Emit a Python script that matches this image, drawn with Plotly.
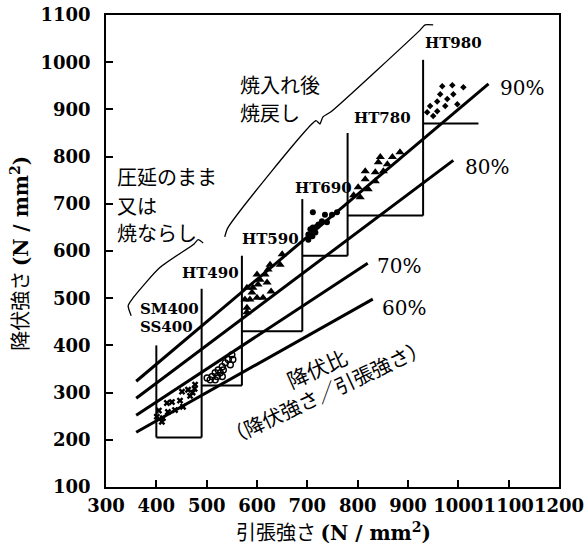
import plotly.graph_objects as go

# Yield strength vs. tensile strength of structural steels (N/mm2)

# yield-ratio reference lines
ratio_values = [0.9, 0.8, 0.7, 0.6]
ratio_labels = ["90%", "80%", "70%", "60%"]
ratio_x_start = [360, 360, 360, 360]
ratio_x_end = [1060, 990, 820, 830]
ratio_label_x = [1079, 1010, 835, 845]
ratio_label_y = [945, 778, 569, 480]

# steel grades: stepped specification brackets
grade_names = ["SM400", "HT490", "HT590", "HT690", "HT780", "HT980"]
ts_min = [400, 490, 570, 690, 780, 930]
ys_min = [205, 315, 430, 590, 675, 870]
bracket_top = [400, 520, 590, 710, 850, 1005]
last_bracket_end = 1040
grade_label_x = [364, 447, 566, 672, 789, 930]
grade_label_y = [478, 554, 626, 734, 882, 1041]
ss400_label_x = 364
ss400_label_y = 440

# measured test results per grade
sm400_x = [401, 405, 411, 413, 421, 423, 431, 437, 447, 451, 453, 463, 467, 472, 477, 476]
sm400_y = [249, 262, 238, 246, 278, 259, 280, 263, 283, 302, 270, 306, 293, 300, 317, 308]

ht490_x = [550, 543, 552, 537, 547, 531, 523, 533, 517, 527, 511, 521, 531, 501, 507, 517]
ht490_y = [380, 370, 370, 363, 359, 355, 348, 348, 342, 342, 334, 334, 334, 331, 327, 327]

ht590_x = [650, 646, 626, 622, 600, 616, 606, 620, 602, 580, 592, 628, 590, 586, 600, 612, 576, 580, 580]
ht590_y = [593, 571, 571, 561, 550, 550, 539, 533, 529, 522, 522, 514, 512, 497, 501, 501, 497, 480, 470]

ht690_x = [711, 735, 749, 759, 729, 739, 719, 711, 706, 716, 702, 710, 702, 722]
ht690_y = [682, 677, 677, 682, 663, 661, 652, 650, 646, 639, 635, 631, 624, 656]

ht780_x = [884, 869, 845, 841, 859, 815, 835, 851, 815, 835, 801, 821, 805, 792]
ht780_y = [809, 799, 799, 788, 784, 769, 767, 769, 752, 748, 735, 731, 714, 718]

ht980_x = [968, 988, 1010, 964, 990, 978, 958, 998, 944, 974, 958, 938, 950]
ht980_y = [949, 951, 947, 932, 932, 922, 917, 911, 907, 907, 896, 894, 886]

# curly braces grouping the heat-treatment classes
brace_hq_x = [536, 542, 717, 722, 725, 731, 747, 924, 934, 950]
brace_hq_y = [630, 649, 876, 872, 869, 884, 895, 1068, 1079, 1079]
brace_rolled_x = [350, 344, 354, 407, 475, 483, 493]
brace_rolled_y = [463, 484, 501, 565, 615, 624, 617]

# text blocks
label_quenched = ["焼入れ後", "焼戻し"]
label_quenched_x = 562
label_quenched_y = [952, 893]
label_rolled = ["圧延のまま", "又は", "焼ならし"]
label_rolled_x = 318
label_rolled_y = [757, 696, 639]

SERIF = "DejaVu Serif"
JP = "Noto Sans CJK JP"
INK = "black"

fig = go.Figure()

# ratio lines
for r, x0, x1 in zip(ratio_values, ratio_x_start, ratio_x_end):
    fig.add_trace(go.Scatter(x=[x0, x1], y=[r * x0, r * x1], mode="lines",
                             line=dict(color=INK, width=3), hoverinfo="skip"))

# stepped brackets: vertical at each grade's minimum tensile strength,
# horizontal at its minimum yield strength
bx, by = [], []
n = len(ts_min)
for i in range(n):
    lower = ys_min[i - 1] if i > 0 else ys_min[0]
    bx += [ts_min[i], ts_min[i], None]
    by += [bracket_top[i], lower, None]
    right = ts_min[i + 1] if i < n - 1 else last_bracket_end
    bx += [ts_min[i], right, None]
    by += [ys_min[i], ys_min[i], None]
fig.add_trace(go.Scatter(x=bx, y=by, mode="lines",
                         line=dict(color=INK, width=2), hoverinfo="skip"))

# braces
for xs, ys in [(brace_hq_x, brace_hq_y), (brace_rolled_x, brace_rolled_y)]:
    fig.add_trace(go.Scatter(x=xs, y=ys, mode="lines",
                             line=dict(color=INK, width=1.3, shape="spline", smoothing=0.6),
                             hoverinfo="skip"))

# measured points
fig.add_trace(go.Scatter(x=sm400_x, y=sm400_y, mode="markers",
                         marker=dict(symbol="x", size=6, color=INK)))
fig.add_trace(go.Scatter(x=ht490_x, y=ht490_y, mode="markers",
                         marker=dict(symbol="circle-open", size=6, color=INK,
                                     line=dict(width=1.4, color=INK))))
fig.add_trace(go.Scatter(x=ht590_x, y=ht590_y, mode="markers",
                         marker=dict(symbol="triangle-up", size=8, color=INK)))
fig.add_trace(go.Scatter(x=ht690_x, y=ht690_y, mode="markers",
                         marker=dict(symbol="circle", size=6, color=INK)))
fig.add_trace(go.Scatter(x=ht780_x, y=ht780_y, mode="markers",
                         marker=dict(symbol="triangle-up", size=8, color=INK)))
fig.add_trace(go.Scatter(x=ht980_x, y=ht980_y, mode="markers",
                         marker=dict(symbol="diamond", size=5, color=INK)))

ann = []
for lab, lx, ly in zip(ratio_labels, ratio_label_x, ratio_label_y):
    ann.append(dict(x=lx, y=ly, text=lab, showarrow=False, xanchor="left", yanchor="middle",
                    font=dict(family=SERIF, size=20, color=INK)))
for name, lx, ly in zip(grade_names, grade_label_x, grade_label_y):
    ann.append(dict(x=lx, y=ly, text=name, showarrow=False, xanchor="left", yanchor="middle",
                    font=dict(family=SERIF, size=15, color=INK, weight="bold")))
ann.append(dict(x=ss400_label_x, y=ss400_label_y, text="SS400", showarrow=False,
                xanchor="left", yanchor="middle",
                font=dict(family=SERIF, size=15, color=INK, weight="bold")))
for t, ly in zip(label_quenched, label_quenched_y):
    ann.append(dict(x=label_quenched_x, y=ly, text=t, showarrow=False, xanchor="left",
                    yanchor="middle", font=dict(family=JP, size=20, color=INK)))
for t, ly in zip(label_rolled, label_rolled_y):
    ann.append(dict(x=label_rolled_x, y=ly, text=t, showarrow=False, xanchor="left",
                    yanchor="middle", font=dict(family=JP, size=20, color=INK)))
ann.append(dict(x=719, y=353, text="降伏比", showarrow=False, textangle=-24,
                font=dict(family=JP, size=21, color=INK)))
ann.append(dict(x=737, y=303, text="（降伏強さ／引張強さ）", showarrow=False, textangle=-25,
                font=dict(family=JP, size=20, color=INK)))

unit = "<span style=\"font-family:'DejaVu Serif';font-weight:bold\">(N / mm<sup>2</sup>)</span>"
ann.append(dict(xref="paper", yref="paper", x=0.503, y=-0.094, xanchor="center",
                yanchor="middle", text="引張強さ " + unit,
                showarrow=False, font=dict(family=JP, size=20, color=INK)))
ann.append(dict(xref="paper", yref="paper", x=-0.19, y=0.496, xanchor="center",
                yanchor="middle", text="降伏強さ " + unit,
                showarrow=False, textangle=-90, font=dict(family=JP, size=20, color=INK)))

axis_common = dict(showline=True, linecolor=INK, linewidth=1.6, mirror=True,
                   ticks="inside", ticklen=7, tickcolor=INK, tickwidth=1.5,
                   showgrid=False, zeroline=False, tickangle=0, automargin=False,
                   tickfont=dict(family=SERIF, size=18, color=INK, weight="bold"))

fig.update_layout(
    width=587, height=546,
    margin=dict(l=106, r=28, t=15, b=59),
    paper_bgcolor="white", plot_bgcolor="white",
    showlegend=False,
    xaxis=dict(range=[300, 1200], tickmode="linear", tick0=300, dtick=100,
               ticklabelstandoff=2, **axis_common),
    yaxis=dict(range=[100, 1100], tickmode="linear", tick0=100, dtick=100,
               ticklabelstandoff=10, **axis_common),
    annotations=ann,
)

fig.write_html("out.html", config={"displayModeBar": False})
